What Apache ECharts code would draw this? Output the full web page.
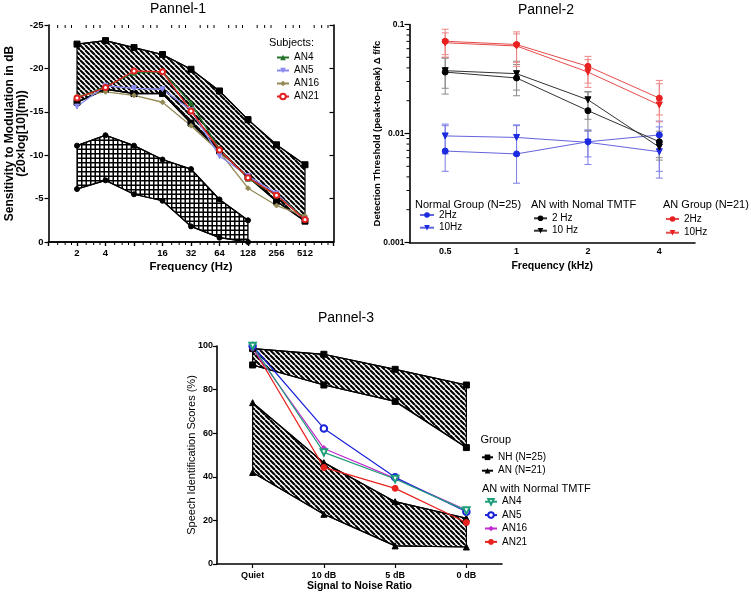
<!DOCTYPE html>
<html><head><meta charset="utf-8">
<script src="https://cdn.jsdelivr.net/npm/echarts@6/dist/echarts.min.js"></script>
<style>html,body{margin:0;padding:0;background:#fff}#c{width:751px;height:595px}</style>
</head><body><div id="c"></div>
<script>
// ---------------- DATA ----------------
// Panel 1
const P1_FREQ = [2, 4, 8, 16, 32, 64, 128, 256, 512];
const P1_XTICKS = [2, 4, 16, 32, 64, 128, 256, 512];
const P1_NH_TOP = [-22.8, -23.2, -22.4, -21.6, -19.9, -17.4, -14.1, -11.2, -8.9];
const P1_NH_BOTTOM = [-16.1, -17.6, -17.1, -17.1, -13.7, -10.5, -7.5, -4.7, -2.4];
const P1_FREQ_LOW = [2, 4, 8, 16, 32, 64, 128];
const P1_AN_TOP = [-11.1, -12.3, -11.1, -9.5, -8.4, -4.9, -2.5];
const P1_AN_BOTTOM = [-6.1, -7.1, -5.5, -4.75, -1.8, -0.5, 0];
const P1_AN4 = [-16.6, -17.9, -19.5, -19.6, -16.0, -10.7, -7.3, -5.4, -2.7];
const P1_AN5 = [-15.6, -18.0, -17.7, -17.6, -15.2, -9.9, -7.6, -5.6, -2.6];
const P1_AN16 = [-16.8, -17.3, -16.9, -16.1, -13.4, -10.4, -6.2, -4.2, -3.0];
const P1_AN21 = [-16.6, -17.8, -19.7, -19.6, -15.1, -10.6, -7.4, -5.4, -2.6];
const P1_MINOR = [1.25, 1.5, 1.75];

// Panel 2
const P2_FREQ = ['0.5', '1', '2', '4'];
const P2_N2 = [0.0069, 0.0065, 0.0084, 0.0097];
const P2_N2_LO = [0.0045, 0.0035, 0.0052, 0.0039];
const P2_N2_HI = [0.0122, 0.0120, 0.0108, 0.0130];
const P2_N10 = [0.0095, 0.0092, 0.0083, 0.0068];
const P2_N10_LO = [0.0065, 0.0063, 0.0061, 0.0045];
const P2_N10_HI = [0.0118, 0.0118, 0.0105, 0.0115];
const P2_T2 = [0.0366, 0.0323, 0.0162, 0.0084];
const P2_T2_LO = [0.0230, 0.0222, 0.0106, 0.0057];
const P2_T2_HI = [0.050, 0.043, 0.0243, 0.0105];
const P2_T10 = [0.0377, 0.0354, 0.0204, 0.0075];
const P2_T10_LO = [0.026, 0.025, 0.0135, 0.0060];
const P2_T10_HI = [0.049, 0.046, 0.0240, 0.0095];
const P2_A2 = [0.0702, 0.0655, 0.0413, 0.0211];
const P2_A2_LO = [0.0529, 0.045, 0.029, 0.0148];
const P2_A2_HI = [0.0905, 0.0856, 0.051, 0.0307];
const P2_A10 = [0.068, 0.0635, 0.0366, 0.0183];
const P2_A10_LO = [0.050, 0.0413, 0.0265, 0.0128];
const P2_A10_HI = [0.0838, 0.082, 0.0476, 0.0286];
const P2_MINOR = [2, 3, 4, 5, 6, 7, 8, 9];

// Panel 3
const P3_SNR = ['Quiet', '10 dB', '5 dB', '0 dB'];
const P3_NH_TOP = [98.8, 96.2, 89.3, 82.1];
const P3_NH_BOTTOM = [91.3, 82.1, 74.6, 53.4];
const P3_AN_TOP = [74.0, 46.5, 28.6, 21.0];
const P3_AN_BOTTOM = [42.0, 22.8, 8.3, 7.8];
const P3_AN4 = [100, 51.2, 39.0, 24.5];
const P3_AN5 = [100, 62.2, 39.8, 24.0];
const P3_AN16 = [99, 53, 39.3, 24.8];
const P3_AN21 = [99.4, 44.3, 34.7, 19.0];

// ---------------- HELPERS ----------------
const FONT = 'Liberation Sans, Arial, sans-serif';
function stripePattern(size, lw) {
  const c = document.createElement('canvas'); c.width = c.height = size;
  const g = c.getContext('2d'); g.strokeStyle = '#000'; g.lineWidth = lw;
  g.beginPath();
  for (let k = -1; k <= 1; k++) { g.moveTo(k * size, 0); g.lineTo(k * size + size, size); }
  g.stroke();
  return { image: c, repeat: 'repeat' };
}
function gridPattern() {
  const c = document.createElement('canvas'); c.width = c.height = 9;
  const g = c.getContext('2d'); g.fillStyle = '#000';
  g.fillRect(0, 0, 9, 1.5); g.fillRect(0, 4.5, 9, 1.5);
  g.fillRect(0, 0, 1.5, 9); g.fillRect(4.5, 0, 1.5, 9);
  return { image: c, repeat: 'repeat' };
}
const STRIPES = stripePattern(5, 2.1);
const CROSS = gridPattern();

function band(xi, yi, xs, up, lo, fill) {
  return {
    type: 'custom', xAxisIndex: xi, yAxisIndex: yi, silent: true, z: 1, clip: false,
    data: [[xs[0], up[0]]],
    renderItem: function (params, api) {
      const pts = [];
      for (let i = 0; i < xs.length; i++) pts.push(api.coord([xs[i], up[i]]));
      for (let i = xs.length - 1; i >= 0; i--) pts.push(api.coord([xs[i], lo[i]]));
      return { type: 'polygon', shape: { points: pts }, style: { fill: fill, stroke: '#000', lineWidth: 1.2 } };
    }
  };
}
function lineS(name, xi, yi, xs, ys, color, symbol, size, opts) {
  opts = opts || {};
  return Object.assign({
    name: name, type: 'line', xAxisIndex: xi, yAxisIndex: yi,
    data: ys.map((v, i) => [xs[i], v]),
    symbol: symbol, symbolSize: size, showSymbol: true,
    lineStyle: { color: opts.lineColor || color, width: opts.lw || 1.3 },
    itemStyle: { color: color, borderColor: color },
    emphasis: { disabled: true }, z: 3, animation: false
  }, opts.extra || {});
}
function errS(xi, yi, lows, highs, color) {
  return {
    type: 'custom', xAxisIndex: xi, yAxisIndex: yi, silent: true, z: 2,
    data: lows.map((l, i) => [i, l, highs[i]]),
    encode: { x: 0, y: [1, 2] },
    renderItem: function (params, api) {
      const i = api.value(0);
      const a = api.coord([i, api.value(1)]), b = api.coord([i, api.value(2)]);
      const w = 3.5, st = { stroke: color, lineWidth: 1 };
      return { type: 'group', children: [
        { type: 'line', shape: { x1: a[0], y1: a[1], x2: b[0], y2: b[1] }, style: st },
        { type: 'line', shape: { x1: a[0] - w, y1: a[1], x2: a[0] + w, y2: a[1] }, style: st },
        { type: 'line', shape: { x1: b[0] - w, y1: b[1], x2: b[0] + w, y2: b[1] }, style: st }
      ] };
    }
  };
}
const idx = n => n.split('#')[0];

// grids
const G1 = { left: 48.5, top: 25, width: 285, height: 217 };
const G2 = { left: 409.5, top: 24.5, width: 285.5, height: 218 };
const G3 = { left: 217, top: 346, width: 285, height: 218 };

const axisLineBlack = { show: true, lineStyle: { color: '#000', width: 1.6 } };
const lblBold = (sz) => ({ color: '#000', fontFamily: FONT, fontWeight: 'bold', fontSize: sz });

// minor ticks panel 1 (log2 x axis, top & bottom)
const p1Minor = {
  type: 'custom', xAxisIndex: 0, yAxisIndex: 0, silent: true, clip: false, z: 5,
  data: [[2, 0]],
  renderItem: function (params, api) {
    const ch = [];
    for (let k = 0; k < 10; k++) {
      P1_MINOR.forEach(m => {
        const x = Math.pow(2, k) * m;
        const b = api.coord([x, 0]), t = api.coord([x, -25]);
        ch.push({ type: 'line', shape: { x1: b[0], y1: b[1], x2: b[0], y2: b[1] + 3 }, style: { stroke: '#000', lineWidth: 1 } });
        ch.push({ type: 'line', shape: { x1: t[0], y1: t[1], x2: t[0], y2: t[1] + 3 }, style: { stroke: '#000', lineWidth: 1 } });
      });
    }
    return { type: 'group', children: ch };
  }
};
// minor ticks panel 2 (log10 y axis)
const p2Minor = {
  type: 'custom', xAxisIndex: 2, yAxisIndex: 2, silent: true, clip: false, z: 5,
  data: [[0, 0.01]],
  renderItem: function (params, api) {
    const ch = [];
    const x0 = params.coordSys.x;
    [0.001, 0.01].forEach(d => {
      P2_MINOR.forEach(m => {
        const p = api.coord([0, d * m]);
        ch.push({ type: 'line', shape: { x1: x0 - 3, y1: p[1], x2: x0, y2: p[1] }, style: { stroke: '#000', lineWidth: 1 } });
      });
    });
    return { type: 'group', children: ch };
  }
};

const legendBase = {
  orient: 'vertical', selectedMode: false, itemWidth: 13, itemHeight: 7, itemGap: 1, padding: 0,
  textStyle: { fontFamily: FONT, fontSize: 10, color: '#000', lineHeight: 12 },
  formatter: idx
};

const option = {
  animation: false,
  backgroundColor: '#fff',
  grid: [G1, G2, G3],
  xAxis: [
    { type: 'log', logBase: 2, min: 1, max: 1024, interval: 1, gridIndex: 0, position: 'bottom',
      axisLine: axisLineBlack, axisTick: { show: true, length: 4, lineStyle: { color: '#000', width: 1.2 } },
      axisLabel: Object.assign(lblBold(9.5), { margin: 6, formatter: v => P1_XTICKS.indexOf(Math.round(v)) >= 0 ? String(Math.round(v)) : '' }),
      splitLine: { show: false }, minorTick: { show: false },
      name: 'Frequency (Hz)', nameLocation: 'middle', nameGap: 19, nameMoveOverlap: false,
      nameTextStyle: { fontFamily: FONT, fontWeight: 'bold', fontSize: 11.5, color: '#000' } },
    { type: 'log', logBase: 2, min: 1, max: 1024, interval: 1, gridIndex: 0, position: 'top',
      axisLine: axisLineBlack, axisTick: { show: true, inside: true, length: 4, lineStyle: { color: '#000', width: 1.2 } },
      axisLabel: { show: false }, splitLine: { show: false } },
    { type: 'category', data: P2_FREQ, gridIndex: 1, boundaryGap: true,
      axisLine: axisLineBlack, axisTick: { show: false },
      axisLabel: Object.assign(lblBold(9), { margin: 5 }), splitLine: { show: false },
      name: 'Frequency (kHz)', nameLocation: 'middle', nameGap: 18, nameMoveOverlap: false,
      nameTextStyle: { fontFamily: FONT, fontWeight: 'bold', fontSize: 10.5, color: '#000' } },
    { type: 'category', data: P3_SNR, gridIndex: 2, boundaryGap: true,
      axisLine: axisLineBlack, axisTick: { show: true, alignWithLabel: true, length: 4, lineStyle: { color: '#000', width: 1.2 } },
      axisLabel: Object.assign(lblBold(9), { margin: 7 }), splitLine: { show: false },
      name: 'Signal to Noise Ratio', nameLocation: 'middle', nameGap: 16.5, nameMoveOverlap: false,
      nameTextStyle: { fontFamily: FONT, fontWeight: 'bold', fontSize: 10.5, color: '#000' } }
  ],
  yAxis: [
    { type: 'value', gridIndex: 0, min: -25, max: 0, interval: 5, inverse: true, position: 'left',
      axisLine: axisLineBlack, axisTick: { show: true, length: 4, lineStyle: { color: '#000', width: 1.2 } },
      axisLabel: Object.assign(lblBold(9.5), { margin: 5 }), splitLine: { show: false },
      name: 'Sensitivity to Modulation in dB\n(20×log[10](m))', nameLocation: 'middle', nameGap: 20.5, nameRotate: 90, nameMoveOverlap: false,
      nameTextStyle: { fontFamily: FONT, fontWeight: 'bold', fontSize: 12, color: '#000', lineHeight: 12 } },
    { type: 'value', gridIndex: 0, min: -25, max: 0, interval: 5, inverse: true, position: 'right',
      axisLine: axisLineBlack, axisTick: { show: true, inside: true, length: 4, lineStyle: { color: '#000', width: 1.2 } },
      axisLabel: { show: false }, splitLine: { show: false } },
    { type: 'log', logBase: 10, gridIndex: 1, min: 0.001, max: 0.1, interval: 1,
      axisLine: axisLineBlack, axisTick: { show: true, length: 5, lineStyle: { color: '#000', width: 1.2 } },
      axisLabel: Object.assign(lblBold(8.5), { margin: 5, formatter: v => String(+(+v).toPrecision(1)) }),
      splitLine: { show: false }, minorTick: { show: false },
      name: 'Detection Threshold (peak-to-peak) Δ f/fc', nameLocation: 'middle', nameGap: 27.5, nameRotate: 90, nameMoveOverlap: false,
      nameTextStyle: { fontFamily: FONT, fontWeight: 'bold', fontSize: 9.5, color: '#000' } },
    { type: 'value', gridIndex: 2, min: 0, max: 100, interval: 20,
      axisLine: axisLineBlack, axisTick: { show: true, length: 4, lineStyle: { color: '#000', width: 1.2 } },
      axisLabel: Object.assign(lblBold(9), { margin: 4 }), splitLine: { show: false },
      name: 'Speech Identification Scores (%)', nameLocation: 'middle', nameGap: 19.5, nameRotate: 90, nameMoveOverlap: false,
      nameTextStyle: { fontFamily: FONT, fontSize: 11, color: '#000' } }
  ],
  legend: [
    Object.assign({}, legendBase, { left: 276, top: 51.5, itemWidth: 12, data: ['AN4#1', 'AN5#1', 'AN16#1', 'AN21#1'] }),
    Object.assign({}, legendBase, { left: 419, top: 209, itemWidth: 14, itemGap: 0.7, data: ['2Hz#n', '10Hz#n'] }),
    Object.assign({}, legendBase, { left: 533, top: 212.3, itemWidth: 13, itemGap: 0.4, data: ['2 Hz#t', '10 Hz#t'] }),
    Object.assign({}, legendBase, { left: 665, top: 213, itemWidth: 13, itemGap: 1.7, data: ['2Hz#a', '10Hz#a'] }),
    Object.assign({}, legendBase, { left: 481, top: 451.3, itemWidth: 11, itemGap: 1.4, data: ['NH (N=25)', 'AN (N=21)'] }),
    Object.assign({}, legendBase, { left: 484, top: 495.7, itemWidth: 12, itemGap: 1.4, data: ['AN4#3', 'AN5#3', 'AN16#3', 'AN21#3'] })
  ],
  graphic: [
    { type: 'text', x: 178, y: 9, style: { text: 'Pannel-1', font: '14px ' + FONT, fill: '#000', textAlign: 'center', textVerticalAlign: 'middle' } },
    { type: 'text', x: 546, y: 10, style: { text: 'Pannel-2', font: '14px ' + FONT, fill: '#000', textAlign: 'center', textVerticalAlign: 'middle' } },
    { type: 'text', x: 346, y: 318, style: { text: 'Pannel-3', font: '14px ' + FONT, fill: '#000', textAlign: 'center', textVerticalAlign: 'middle' } },
    { type: 'text', x: 291.5, y: 43, style: { text: 'Subjects:', font: '11px ' + FONT, fill: '#000', textAlign: 'center', textVerticalAlign: 'middle' } },
    { type: 'text', x: 415, y: 204.5, style: { text: 'Normal Group (N=25)', font: '11px ' + FONT, fill: '#000', textAlign: 'left', textVerticalAlign: 'middle' } },
    { type: 'text', x: 531, y: 204.5, style: { text: 'AN with Nomal TMTF', font: '11px ' + FONT, fill: '#000', textAlign: 'left', textVerticalAlign: 'middle' } },
    { type: 'text', x: 663, y: 204.5, style: { text: 'AN Group (N=21)', font: '11px ' + FONT, fill: '#000', textAlign: 'left', textVerticalAlign: 'middle' } },
    { type: 'text', x: 480.5, y: 440, style: { text: 'Group', font: '11px ' + FONT, fill: '#000', textAlign: 'left', textVerticalAlign: 'middle' } },
    { type: 'text', x: 482, y: 489, style: { text: 'AN with Normal TMTF', font: '11px ' + FONT, fill: '#000', textAlign: 'left', textVerticalAlign: 'middle' } }
  ],
  series: [
    // Panel 1
    band(0, 0, P1_FREQ, P1_NH_TOP, P1_NH_BOTTOM, STRIPES),
    band(0, 0, P1_FREQ_LOW, P1_AN_TOP, P1_AN_BOTTOM, CROSS),
    lineS('p1nhTop', 0, 0, P1_FREQ, P1_NH_TOP, '#000', 'rect', 6, { lw: 1.2 }),
    lineS('p1nhBot', 0, 0, P1_FREQ, P1_NH_BOTTOM, '#000', 'rect', 6, { lw: 1.5 }),
    lineS('p1anTop', 0, 0, P1_FREQ_LOW, P1_AN_TOP, '#000', 'circle', 5, { lw: 1.2 }),
    lineS('p1anBot', 0, 0, P1_FREQ_LOW, P1_AN_BOTTOM, '#000', 'circle', 5, { lw: 1.2 }),
    lineS('AN16#1', 0, 0, P1_FREQ, P1_AN16, '#948a55', 'diamond', 5, { lw: 1.3 }),
    lineS('AN5#1', 0, 0, P1_FREQ, P1_AN5, '#8a8af2', 'triangle', 5, { lw: 1.3, extra: { symbolRotate: 180 } }),
    lineS('AN4#1', 0, 0, P1_FREQ, P1_AN4, '#24752a', 'triangle', 5, { lw: 1.3 }),
    lineS('AN21#1', 0, 0, P1_FREQ, P1_AN21, '#e32020', 'emptyCircle', 5, { lw: 1.3 }),
    p1Minor,
    // Panel 2
    errS(2, 2, P2_N2_LO, P2_N2_HI, '#7c7ce6'),
    errS(2, 2, P2_N10_LO, P2_N10_HI, '#7c7ce6'),
    errS(2, 2, P2_T2_LO, P2_T2_HI, '#8a8a8a'),
    errS(2, 2, P2_T10_LO, P2_T10_HI, '#8a8a8a'),
    errS(2, 2, P2_A2_LO, P2_A2_HI, '#ee8585'),
    errS(2, 2, P2_A10_LO, P2_A10_HI, '#ee8585'),
    lineS('2Hz#n', 2, 2, [0, 1, 2, 3], P2_N2, '#1c2ae0', 'circle', 6, { lw: 1, lineColor: '#6464dc' }),
    lineS('10Hz#n', 2, 2, [0, 1, 2, 3], P2_N10, '#1c2ae0', 'triangle', 6, { lw: 1, lineColor: '#6464dc', extra: { symbolRotate: 180 } }),
    lineS('2 Hz#t', 2, 2, [0, 1, 2, 3], P2_T2, '#000', 'circle', 6, { lw: 1, lineColor: '#333' }),
    lineS('10 Hz#t', 2, 2, [0, 1, 2, 3], P2_T10, '#000', 'triangle', 6, { lw: 1, lineColor: '#333', extra: { symbolRotate: 180 } }),
    lineS('2Hz#a', 2, 2, [0, 1, 2, 3], P2_A2, '#e82020', 'circle', 6, { lw: 1, lineColor: '#e64a4a' }),
    lineS('10Hz#a', 2, 2, [0, 1, 2, 3], P2_A10, '#e82020', 'triangle', 6, { lw: 1, lineColor: '#e64a4a', extra: { symbolRotate: 180 } }),
    p2Minor,
    // Panel 3
    band(3, 3, [0, 1, 2, 3], P3_NH_TOP, P3_NH_BOTTOM, STRIPES),
    band(3, 3, [0, 1, 2, 3], P3_AN_TOP, P3_AN_BOTTOM, STRIPES),
    lineS('NH (N=25)', 3, 3, [0, 1, 2, 3], P3_NH_TOP, '#000', 'rect', 6, { lw: 1.2 }),
    lineS('NH (N=25)', 3, 3, [0, 1, 2, 3], P3_NH_BOTTOM, '#000', 'rect', 6, { lw: 1.2 }),
    lineS('AN (N=21)', 3, 3, [0, 1, 2, 3], P3_AN_TOP, '#000', 'triangle', 6, { lw: 1.2 }),
    lineS('AN (N=21)', 3, 3, [0, 1, 2, 3], P3_AN_BOTTOM, '#000', 'triangle', 6, { lw: 1.2 }),
    lineS('AN21#3', 3, 3, [0, 1, 2, 3], P3_AN21, '#e8231f', 'circle', 6, { lw: 1.2 }),
    lineS('AN16#3', 3, 3, [0, 1, 2, 3], P3_AN16, '#c22ccf', 'diamond', 6, { lw: 1.2 }),
    lineS('AN5#3', 3, 3, [0, 1, 2, 3], P3_AN5, '#1a22d8', 'emptyCircle', 6.5, { lw: 1.2 }),
    lineS('AN4#3', 3, 3, [0, 1, 2, 3], P3_AN4, '#1f9e7a', 'emptyTriangle', 6.5, { lw: 1.2, extra: { symbolRotate: 180 } })
  ]
};
const chart = echarts.init(document.getElementById('c'), null, { renderer: 'canvas' });
chart.setOption(option);
</script></body></html>
